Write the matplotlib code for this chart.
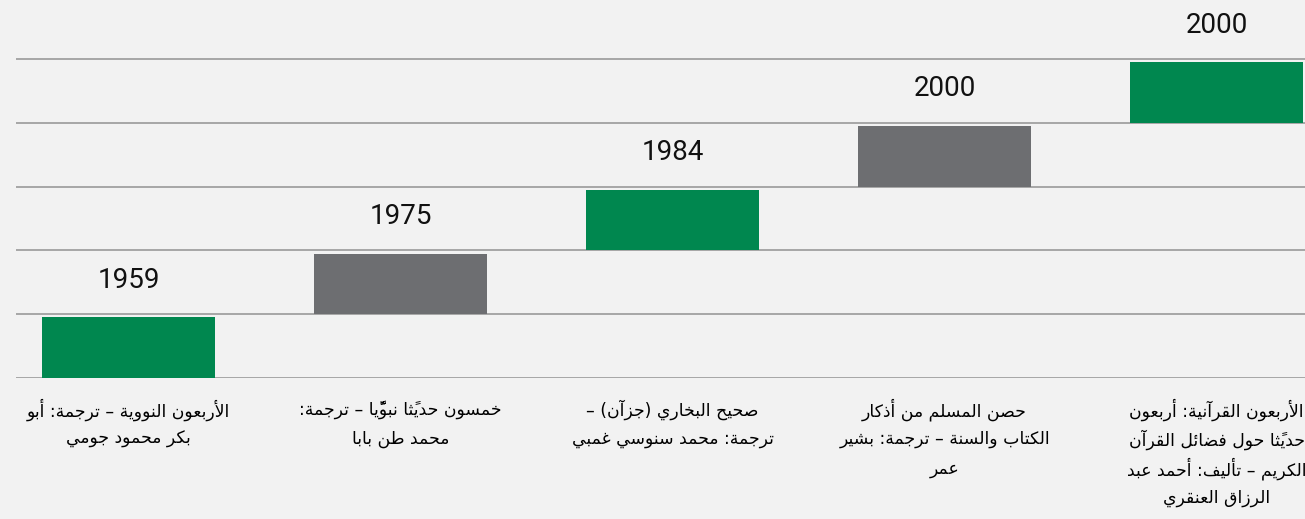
import matplotlib
matplotlib.use("Agg")
import matplotlib.pyplot as plt

years = ["1959", "1975", "1984", "2000", "2000"]
steps = [0, 1, 2, 3, 4]
bar_colors = ["#00874f", "#6d6e71", "#00874f", "#6d6e71", "#00874f"]
titles = [
    "الأربعون النووية – ترجمة: أبو\nبكر محمود جومي",
    "خمسون حديثًا نبويًّا – ترجمة:\nمحمد طن بابا",
    "صحيح البخاري (جزآن) –\nترجمة: محمد سنوسي غمبي",
    "حصن المسلم من أذكار\nالكتاب والسنة – ترجمة: بشير\nعمر",
    "الأربعون القرآنية: أربعون\nحديثًا حول فضائل القرآن\nالكريم – تأليف: أحمد عبد\nالرزاق العنقري",
]

# matplotlib has no arabic shaping, so pick presentation forms by hand
# letter -> (first form code point, number of forms: isol, fin, init, med)
FORMS = {}
_cp = 0xFE80
for ch, n in [("ء", 1), ("آ", 2), ("أ", 2), ("ؤ", 2), ("إ", 2), ("ئ", 4), ("ا", 2),
              ("ب", 4), ("ة", 2), ("ت", 4), ("ث", 4), ("ج", 4), ("ح", 4), ("خ", 4),
              ("د", 2), ("ذ", 2), ("ر", 2), ("ز", 2), ("س", 4), ("ش", 4), ("ص", 4),
              ("ض", 4), ("ط", 4), ("ظ", 4), ("ع", 4), ("غ", 4), ("ف", 4), ("ق", 4),
              ("ك", 4), ("ل", 4), ("م", 4), ("ن", 4), ("ه", 4), ("و", 2), ("ى", 2),
              ("ي", 4)]:
    FORMS[ch] = (_cp, n)
    _cp += n
LAM_ALEF = {"آ": 0xFEF5, "أ": 0xFEF7, "إ": 0xFEF9, "ا": 0xFEFB}
MIRROR = {"(": ")", ")": "("}


def n_forms(b):
    if b.startswith("LA"):
        return 2
    return FORMS.get(b, (0, 0))[1]


def shape_line(s):
    cl = []
    for c in s:
        if ("\u064b" <= c <= "\u0652") and cl:
            cl[-1][1] += c
        else:
            cl.append([c, ""])
    merged = []
    i = 0
    while i < len(cl):
        b, m = cl[i]
        if b == "ل" and i + 1 < len(cl) and cl[i + 1][0] in LAM_ALEF:
            merged.append(["LA" + cl[i + 1][0], m + cl[i + 1][1]])
            i += 2
        else:
            merged.append([b, m])
            i += 1
    out = []
    for i, (b, m) in enumerate(merged):
        n = n_forms(b)
        if n == 0:
            out.append(MIRROR.get(b, b) + m)
            continue
        prev_ok = i > 0 and n_forms(merged[i - 1][0]) == 4 and n >= 2
        next_ok = n == 4 and i + 1 < len(merged) and n_forms(merged[i + 1][0]) >= 2
        if b.startswith("LA"):
            g = chr(LAM_ALEF[b[2]] + (1 if prev_ok else 0))
        else:
            k = {(False, False): 0, (True, False): 1, (False, True): 2, (True, True): 3}[(prev_ok, next_ok)]
            g = chr(FORMS[b][0] + k)
        out.append(g + m)
    out.reverse()
    return "".join(out)


bg = "#f2f2f2"
fig = plt.figure(figsize=(13.05, 5.19), dpi=100, facecolor=bg)
ax = fig.add_axes([16 / 1305, 141 / 519, 1289 / 1305, 378 / 519], facecolor=bg)

for y in range(6):
    ax.axhline(y, color="#9a9a9a", lw=1.2, zorder=1)

ax.bar(steps, [0.95] * len(steps), bottom=steps, width=0.636,
       color=bar_colors, zorder=2)

for x, s, yr in zip(steps, steps, years):
    ax.text(x, s + 1.53, yr, ha="center", va="center", fontsize=20,
            family="Roboto", fontweight="normal", color="#111111")

# category labels, one text per line so the line pitch stays even
for x, t in zip(steps, titles):
    for j, line in enumerate(t.split("\n")):
        ypix = 410 + 29.3 * j
        ax.text(x, -(ypix - 378) / 378, shape_line(line), transform=ax.get_xaxis_transform(),
                ha="center", va="center", fontsize=12.4, family="DejaVu Sans",
                color="black", clip_on=False)

ax.set_xlim(-0.414, 4.325)
ax.set_ylim(0, 5.925)
ax.set_xticks([])
ax.set_yticks([])
for sp in ax.spines.values():
    sp.set_visible(False)

fig.savefig("out.png", dpi=100, facecolor=bg)
